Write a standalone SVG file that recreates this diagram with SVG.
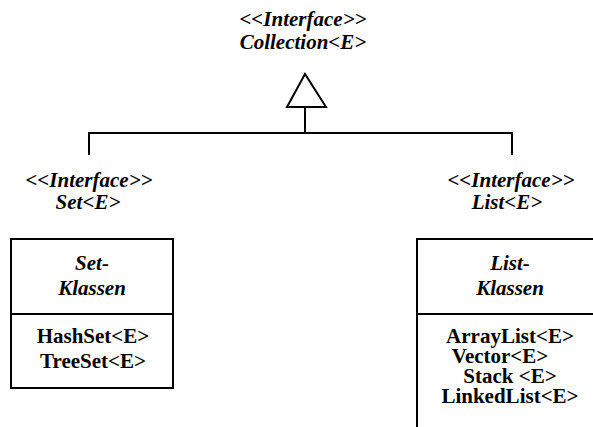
<svg xmlns="http://www.w3.org/2000/svg" width="593" height="427" viewBox="0 0 593 427">
<style>
.ln{stroke:#000;stroke-width:2;fill:none}
.box{stroke:#000;stroke-width:2;fill:#fff}
text{font-family:"Liberation Serif","Times New Roman",serif;font-size:21px;font-weight:bold;text-anchor:middle;fill:#000}
.it{font-style:italic}
</style>
<rect width="593" height="427" fill="#fff"/>
<g id="connectors">
<polyline class="ln" points="89,155 89,133 512,133 512,155"/>
<line class="ln" x1="305" y1="133" x2="305" y2="107"/>
<polygon class="box" points="305,74 287,107 326,107"/>
</g>
<g id="collection">
<text class="it" x="303" y="26">&lt;&lt;Interface&gt;&gt;</text>
<text class="it" x="303" y="49">Collection&lt;E&gt;</text>
</g>
<g id="set-interface">
<text class="it" x="89" y="187">&lt;&lt;Interface&gt;&gt;</text>
<text class="it" x="88" y="209">Set&lt;E&gt;</text>
</g>
<g id="list-interface">
<text class="it" x="511" y="187">&lt;&lt;Interface&gt;&gt;</text>
<text class="it" x="507" y="209">List&lt;E&gt;</text>
</g>
<g id="set-klassen">
<rect class="box" x="11" y="239" width="162" height="149"/>
<line class="ln" x1="11" y1="314" x2="173" y2="314"/>
<text class="it" x="92" y="270">Set-</text>
<text class="it" x="92" y="295">Klassen</text>
<text x="93" y="343">HashSet&lt;E&gt;</text>
<text x="93" y="368">TreeSet&lt;E&gt;</text>
</g>
<g id="list-klassen">
<rect class="box" x="417" y="239" width="200" height="220"/>
<line class="ln" x1="417" y1="314" x2="617" y2="314"/>
<text class="it" x="510" y="270">List-</text>
<text class="it" x="510" y="295">Klassen</text>
<text x="510" y="343">ArrayList&lt;E&gt;</text>
<text x="500" y="363">Vector&lt;E&gt;</text>
<text x="510" y="383">Stack &lt;E&gt;</text>
<text x="510" y="403">LinkedList&lt;E&gt;</text>
</g>
</svg>
